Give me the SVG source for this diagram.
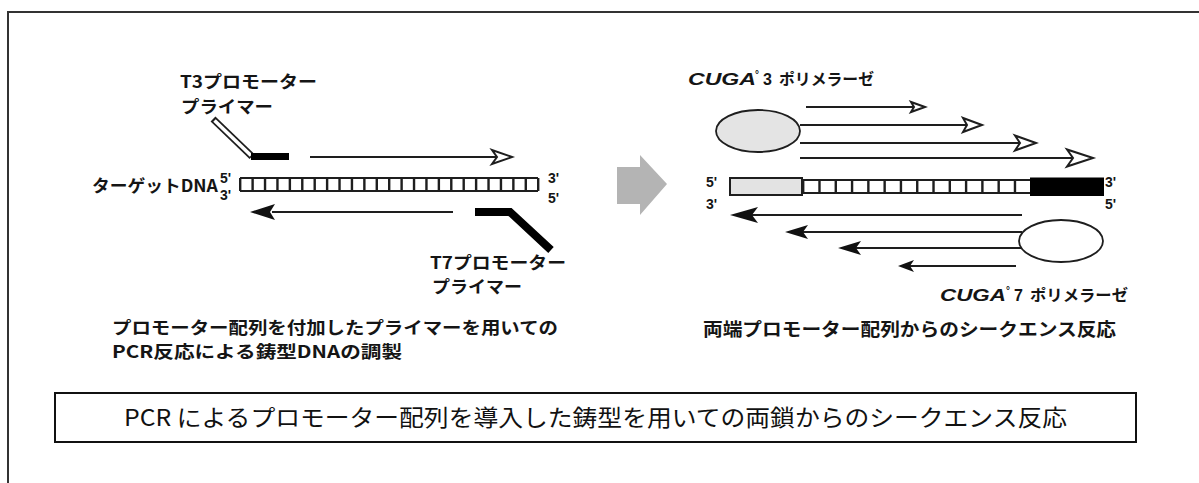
<svg xmlns="http://www.w3.org/2000/svg" width="1199" height="483" viewBox="0 0 1199 483">
<style>
.lbl{font-family:"Noto Sans CJK JP","Liberation Sans",sans-serif;font-weight:700;fill:#151515}
.lat{font-family:"Liberation Sans","Noto Sans CJK JP",sans-serif;font-weight:700;fill:#151515}
.it{font-family:"Liberation Sans",sans-serif;font-weight:700;font-style:italic;fill:#151515}
.cap{font-family:"Noto Sans CJK JP","Liberation Sans",sans-serif;font-weight:400;fill:#111}
.ln{stroke:#1e1e1e;stroke-width:2;fill:none}
.oh{fill:#fff;stroke:#1e1e1e;stroke-width:2;stroke-linejoin:miter}
.fh{fill:#111;stroke:none}
</style>
<rect width="1199" height="483" fill="#fff"/>
<path d="M8,483V12H1199" fill="none" stroke="#333" stroke-width="2"/>

<g id="left-dna">
<line x1="240" y1="178" x2="538" y2="178" class="ln" stroke-width="2.2"/>
<line x1="240" y1="191" x2="538" y2="191" class="ln" stroke-width="2.2"/>
<line x1="239" y1="184.5" x2="539.5" y2="184.5" stroke="#1e1e1e" stroke-width="13" stroke-dasharray="2.4 10.0167"/>
<text class="lbl" x="92" y="192" font-size="17" textLength="126" lengthAdjust="spacingAndGlyphs">ターゲットDNA</text>
<text class="lat" x="220" y="183" font-size="14">5'</text>
<text class="lat" x="220" y="200" font-size="14">3'</text>
<text class="lat" x="548" y="183" font-size="14">3'</text>
<text class="lat" x="548" y="203" font-size="14">5'</text>
</g>

<g id="t3-primer">
<line x1="213" y1="119" x2="252" y2="156.5" stroke="#1e1e1e" stroke-width="7"/>
<line x1="214.5" y1="120.5" x2="251" y2="155.5" stroke="#fff" stroke-width="3.5"/>
<line x1="251" y1="156.5" x2="289" y2="156.5" stroke="#000" stroke-width="7"/>
<text class="lbl" x="180" y="88" font-size="17" textLength="137" lengthAdjust="spacingAndGlyphs">T3プロモーター</text>
<text class="lbl" x="181" y="113" font-size="17" textLength="92" lengthAdjust="spacingAndGlyphs">プライマー</text>
</g>

<g id="t7-primer">
<polyline points="475,212 510,212 551,250" fill="none" stroke="#000" stroke-width="8" stroke-linejoin="miter"/>
<text class="lbl" x="430" y="269" font-size="17" textLength="136" lengthAdjust="spacingAndGlyphs">T7プロモーター</text>
<text class="lbl" x="432" y="293" font-size="17" textLength="90" lengthAdjust="spacingAndGlyphs">プライマー</text>
</g>

<g id="left-caption">
<text class="lbl" x="112" y="334" font-size="17" textLength="446" lengthAdjust="spacingAndGlyphs">プロモーター配列を付加したプライマーを用いての</text>
<text class="lbl" x="112" y="358" font-size="17" textLength="290" lengthAdjust="spacingAndGlyphs">PCR反応による鋳型DNAの調製</text>
</g>

<g id="block-arrow">
<polygon points="617,167 640,167 640,155 667,184 640,215 640,204 617,204" fill="#b4b4b4"/>
</g>

<g id="t3-polymerase">
<ellipse cx="758" cy="131" rx="42" ry="21" fill="#e4e4e4" stroke="#1e1e1e" stroke-width="1.8"/>
<text class="it" x="688" y="85" font-size="17" textLength="68" lengthAdjust="spacingAndGlyphs">CUGA</text>
<text class="lat" x="755" y="78" font-size="10">°</text>
<text class="lat" x="763" y="85" font-size="16">3</text>
<text class="lbl" x="779" y="85" font-size="16" textLength="95" lengthAdjust="spacingAndGlyphs">ポリメラーゼ</text>
</g>

<g id="right-dna">
<rect x="730" y="178" width="72" height="17" fill="#e3e3e3" stroke="#1e1e1e" stroke-width="2"/>
<line x1="802" y1="180" x2="1030" y2="180" class="ln" stroke-width="2.2"/>
<line x1="802" y1="193" x2="1030" y2="193" class="ln" stroke-width="2.2"/>
<line x1="802" y1="186.5" x2="1032" y2="186.5" stroke="#1e1e1e" stroke-width="13" stroke-dasharray="2.4 13.89"/>
<rect x="1030" y="177.5" width="74" height="18.5" fill="#000"/>
<text class="lat" x="706" y="187" font-size="14">5'</text>
<text class="lat" x="706" y="209" font-size="14">3'</text>
<text class="lat" x="1105" y="187" font-size="14">3'</text>
<text class="lat" x="1105" y="209" font-size="14">5'</text>
</g>

<g id="t7-polymerase">
<ellipse cx="1061" cy="241" rx="42" ry="21" fill="#fff" stroke="#1e1e1e" stroke-width="1.8"/>
<text class="it" x="940" y="301" font-size="17" textLength="66" lengthAdjust="spacingAndGlyphs">CUGA</text>
<text class="lat" x="1006" y="294" font-size="10">°</text>
<text class="lat" x="1014" y="301" font-size="16">7</text>
<text class="lbl" x="1030" y="301" font-size="16" textLength="98" lengthAdjust="spacingAndGlyphs">ポリメラーゼ</text>
</g>

<g id="right-caption">
<text class="lbl" x="703" y="336" font-size="18" textLength="413" lengthAdjust="spacingAndGlyphs">両端プロモーター配列からのシークエンス反応</text>
</g>

<g id="connectors">
<line x1="310" y1="157" x2="497" y2="157" class="ln"/>
<polygon class="oh" points="512,157 492,150 497,157 492,164"/>
<line x1="272" y1="212" x2="453" y2="212" class="ln" stroke-width="2.5"/>
<polygon class="fh" points="250,212 275,204 270,212 275,220"/>

<line x1="806" y1="107" x2="914" y2="107" class="ln"/>
<polygon class="oh" points="925,107 911,102 914,107 911,112"/>
<line x1="800" y1="125" x2="967" y2="125" class="ln"/>
<polygon class="oh" points="982,125 963,118 967,125 963,132"/>
<line x1="800" y1="143" x2="1020" y2="143" class="ln"/>
<polygon class="oh" points="1036,143 1015,135.5 1020,143 1015,150.5"/>
<line x1="800" y1="158" x2="1073" y2="158" class="ln"/>
<polygon class="oh" points="1093,158 1067,149.5 1073,158 1067,166.5"/>

<line x1="752" y1="215" x2="1022" y2="215" class="ln"/>
<polygon class="fh" points="730,215 758,207 752,215 758,223"/>
<line x1="803" y1="232" x2="1022" y2="232" class="ln"/>
<polygon class="fh" points="785,232 808,225 803,232 808,239"/>
<line x1="856" y1="248" x2="1021" y2="248" class="ln"/>
<polygon class="fh" points="838,248 861,241 856,248 861,255"/>
<line x1="910" y1="266" x2="1016" y2="266" class="ln"/>
<polygon class="fh" points="898,266 914,260 910,266 914,272"/>
</g>

<g id="caption-box">
<rect x="55" y="393" width="1081" height="49" fill="#fff" stroke="#111" stroke-width="2"/>
<text class="cap" x="124" y="426" font-size="23" textLength="943" lengthAdjust="spacingAndGlyphs">PCR によるプロモーター配列を導入した鋳型を用いての両鎖からのシークエンス反応</text>
</g>
</svg>
